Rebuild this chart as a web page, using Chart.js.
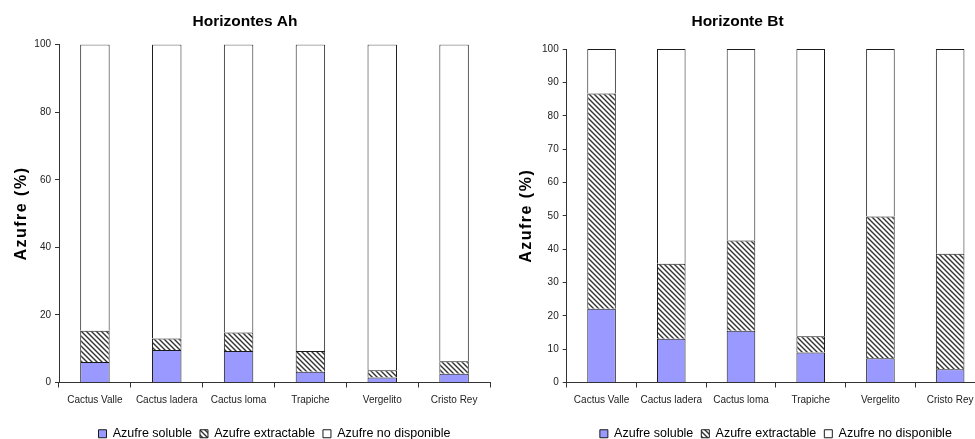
<!DOCTYPE html>
<html>
<head>
<meta charset="utf-8">
<script src="https://cdn.jsdelivr.net/npm/chart.js@4.4.1/dist/chart.umd.min.js"></script>
<style>
  html, body { margin: 0; padding: 0; background: #fff; overflow: hidden; width: 975px; height: 439px; }
  .panel { position: absolute; top: 0; height: 439px; overflow: hidden; }
  #panelAh { left: 0; width: 495px; }
  #panelBt { left: 490px; width: 485px; }
  canvas { display: block; }
</style>
</head>
<body>
<div class="panel" id="panelAh"><canvas id="chartAh" width="495" height="450"></canvas></div>
<div class="panel" id="panelBt"><canvas id="chartBt" width="506" height="450"></canvas></div>
<script>
// Sampling sites
const sites = ['Cactus Valle', 'Cactus ladera', 'Cactus loma', 'Trapiche', 'Vergelito', 'Cristo Rey'];
const seriesNames = ['Azufre soluble', 'Azufre extractable', 'Azufre no disponible'];

// Horizontes Ah: sulphur fractions (% of total)
const ahSoluble      = [6.1, 9.6, 9.3, 3.2, 1.5, 2.6];
const ahExtractable  = [9.2, 3.4, 5.5, 6.1, 2.1, 3.7];
const ahNoDisponible = [84.7, 87.0, 85.2, 90.7, 96.4, 93.7];

// Horizonte Bt: sulphur fractions (% of total)
const btSoluble      = [22.1, 13.1, 15.5, 9.0, 7.3, 4.0];
const btExtractable  = [64.6, 22.5, 27.1, 4.9, 42.5, 34.6];
const btNoDisponible = [13.3, 64.4, 57.4, 86.1, 50.2, 61.4];

const FONT = '"Liberation Sans", Arial, Helvetica, sans-serif';
const INK = '#222';

// Diagonal hatch fill for the extractable fraction
function makeHatch() {
  const s = 5;
  const c = document.createElement('canvas');
  c.width = s; c.height = s;
  const g = c.getContext('2d');
  g.fillStyle = '#fff';
  g.fillRect(0, 0, s, s);
  g.strokeStyle = '#333';
  g.lineWidth = 1.4;
  g.beginPath();
  g.moveTo(-1, -1); g.lineTo(s + 1, s + 1);
  g.moveTo(-1, s - 1); g.lineTo(1, s + 1);
  g.moveTo(s - 1, -1); g.lineTo(s + 1, 1);
  g.stroke();
  return g.createPattern(c, 'repeat');
}
const hatch = makeHatch();

// Rotated, letter-spaced y-axis caption
function yCaption(text, offset) {
  return {
    id: 'yCaption',
    afterDraw(chart) {
      const { ctx, chartArea } = chart;
      ctx.save();
      ctx.translate(chartArea.left - offset, (chartArea.top + chartArea.bottom) / 2);
      ctx.rotate(-Math.PI / 2);
      ctx.font = 'bold 16px ' + FONT;
      ctx.letterSpacing = '1.5px';
      ctx.fillStyle = '#000';
      ctx.textAlign = 'center';
      ctx.textBaseline = 'middle';
      ctx.fillText(text, 0, 0);
      ctx.restore();
    }
  };
}

function buildChart(id, title, soluble, extractable, noDisp, step, axisWidth, titleGap, captionOffset) {
  const common = { borderColor: '#1a1a1a', borderWidth: 1, categoryPercentage: 1, barPercentage: 0.41 };
  return new Chart(document.getElementById(id), {
    type: 'bar',
    data: {
      labels: sites,
      datasets: [
        Object.assign({ label: seriesNames[0], data: soluble, backgroundColor: '#9999FF' }, common),
        Object.assign({ label: seriesNames[1], data: extractable, backgroundColor: hatch }, common),
        Object.assign({ label: seriesNames[2], data: noDisp, backgroundColor: '#FFFFFF' }, common)
      ]
    },
    options: {
      responsive: false,
      animation: false,
      devicePixelRatio: 1,
      layout: { padding: { left: 0, right: id === 'chartAh' ? 5 : 11, top: 0, bottom: 0 } },
      plugins: {
        tooltip: { enabled: false },
        title: {
          display: true,
          text: title,
          color: '#000',
          font: { family: FONT, size: 15.5, weight: 'bold' },
          padding: { top: 12, bottom: titleGap }
        },
        legend: {
          position: 'bottom',
          fullSize: false,
          labels: {
            color: '#000',
            font: { family: FONT, size: 12.5 },
            boxWidth: 8,
            boxHeight: 8,
            padding: 8
          }
        }
      },
      scales: {
        x: {
          stacked: true,
          grid: { display: true, offset: true, drawOnChartArea: false, drawTicks: true, tickLength: 5, color: '#333' },
          border: { display: true, color: '#333', width: 1 },
          ticks: { color: INK, font: { family: FONT, size: 10 }, padding: 7, maxRotation: 0, autoSkip: false },
          afterFit(scale) { scale.height = 37; }
        },
        y: {
          stacked: true,
          min: 0,
          max: 100,
          grid: { display: true, drawOnChartArea: false, drawTicks: true, tickLength: 4, color: '#333' },
          border: { display: true, color: '#333', width: 1 },
          ticks: { stepSize: step, color: INK, font: { family: FONT, size: 10 }, padding: 4 },
          afterFit(scale) { scale.width = axisWidth; }
        }
      }
    },
    plugins: [yCaption('Azufre (%)', captionOffset)]
  });
}

buildChart('chartAh', 'Horizontes Ah', ahSoluble, ahExtractable, ahNoDisponible, 20, 59, 14, 37);
buildChart('chartBt', 'Horizonte Bt', btSoluble, btExtractable, btNoDisponible, 10, 76.7, 18.5, 40);
</script>
</body>
</html>
